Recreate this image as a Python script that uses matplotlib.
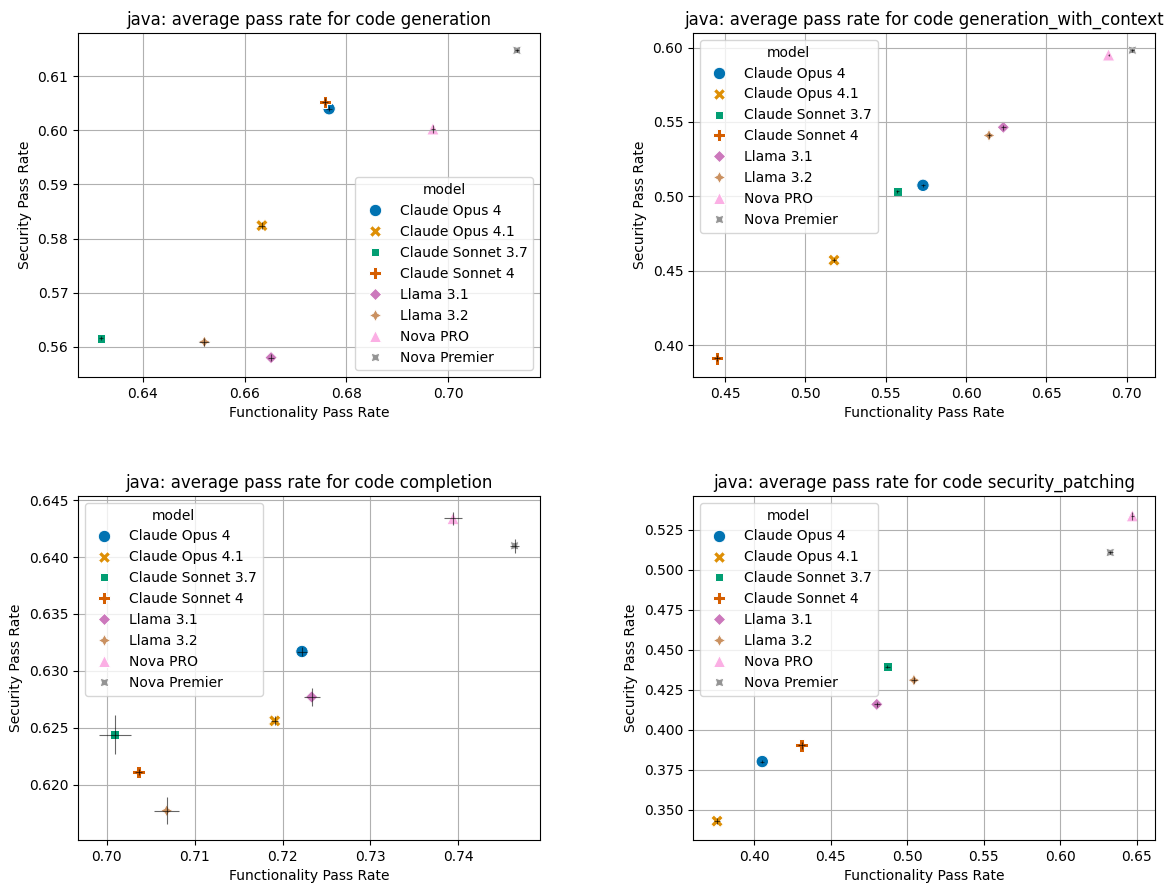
import matplotlib
matplotlib.use("Agg")
import matplotlib.pyplot as plt
import pandas as pd
import seaborn as sns

models = ["Claude Opus 4", "Claude Opus 4.1", "Claude Sonnet 3.7", "Claude Sonnet 4",
          "Llama 3.1", "Llama 3.2", "Nova PRO", "Nova Premier"]

# code generation
gen_func = [0.6766, 0.6634, 0.6318, 0.6758, 0.6652, 0.6521, 0.6970, 0.7135]
gen_sec = [0.6040, 0.5824, 0.5616, 0.6053, 0.5580, 0.5609, 0.6003, 0.6148]
gen_func_err = [0.0006, 0.0007, 0.0004, 0.0006, 0.0006, 0.0010, 0.0004, 0.0004]
gen_sec_err = [0.0005, 0.0006, 0.0004, 0.0006, 0.0007, 0.0007, 0.0007, 0.0003]

# code generation_with_context
ctx_func = [0.5732, 0.5178, 0.5573, 0.4451, 0.6232, 0.6143, 0.6887, 0.7035]
ctx_sec = [0.5074, 0.4571, 0.5033, 0.3911, 0.5464, 0.5409, 0.5951, 0.5982]
ctx_func_err = [0.0012, 0.0015, 0.0012, 0.0020, 0.0015, 0.0015, 0.0005, 0.0010]
ctx_sec_err = [0.0012, 0.0015, 0.0012, 0.0020, 0.0015, 0.0015, 0.0005, 0.0010]

# code completion
comp_func = [0.7222, 0.7191, 0.7009, 0.7036, 0.7233, 0.7068, 0.7394, 0.7464]
comp_sec = [0.6317, 0.6256, 0.6244, 0.6211, 0.6277, 0.6177, 0.6434, 0.6410]
comp_func_err = [0.0006, 0.0004, 0.0018, 0.0004, 0.0009, 0.0014, 0.0010, 0.0005]
comp_sec_err = [0.0004, 0.0004, 0.0017, 0.0003, 0.0008, 0.0012, 0.0006, 0.0006]

# code security_patching
patch_func = [0.4052, 0.3756, 0.4870, 0.4309, 0.4801, 0.5044, 0.6473, 0.6328]
patch_sec = [0.3802, 0.3430, 0.4395, 0.3903, 0.4159, 0.4310, 0.5337, 0.5107]
patch_func_err = [0.0012, 0.0020, 0.0015, 0.0025, 0.0020, 0.0020, 0.0010, 0.0015]
patch_sec_err = [0.0010, 0.0020, 0.0012, 0.0020, 0.0015, 0.0020, 0.0025, 0.0012]

panels = [
    ("generation", gen_func, gen_sec, gen_func_err, gen_sec_err, "lower right"),
    ("generation_with_context", ctx_func, ctx_sec, ctx_func_err, ctx_sec_err, "upper left"),
    ("completion", comp_func, comp_sec, comp_func_err, comp_sec_err, "upper left"),
    ("security_patching", patch_func, patch_sec, patch_func_err, patch_sec_err, "upper left"),
]

rects = [
    [0.0668, 0.5735, 0.3955, 0.3891],
    [0.5933, 0.5735, 0.3955, 0.3891],
    [0.0668, 0.0498, 0.3955, 0.3891],
    [0.5933, 0.0498, 0.3955, 0.3891],
]

fig = plt.figure(figsize=(11.68, 8.84), dpi=100)

for rect, (task, func, sec, ferr, serr, loc) in zip(rects, panels):
    ax = fig.add_axes(rect)
    df = pd.DataFrame({"model": models, "func": func, "sec": sec})
    sns.scatterplot(data=df, x="func", y="sec", hue="model", style="model",
                    hue_order=models, style_order=models, palette="colorblind",
                    s=80, ax=ax)
    ax.errorbar(func, sec, xerr=ferr, yerr=serr, fmt="none", ecolor="black",
                elinewidth=0.8, alpha=0.6, zorder=3)
    ax.set_title(f"java: average pass rate for code {task}")
    ax.set_xlabel("Functionality Pass Rate")
    ax.set_ylabel("Security Pass Rate")
    ax.grid(True)
    sns.move_legend(ax, loc, title="model")

fig.savefig("out.png", dpi=100)
